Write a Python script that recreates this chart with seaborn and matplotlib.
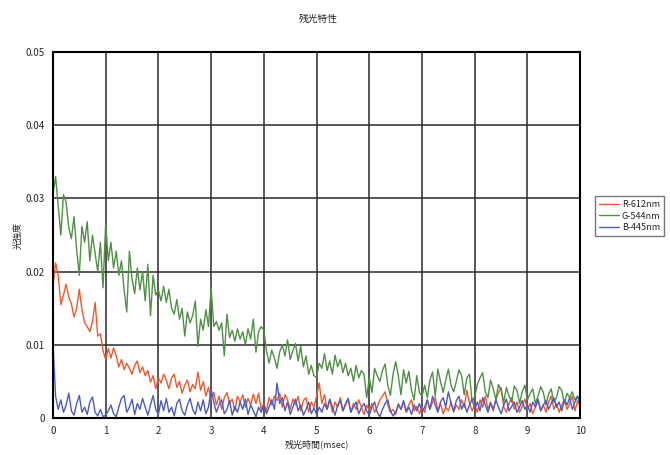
import numpy as np
import pandas as pd
import matplotlib
matplotlib.use("Agg")
import matplotlib.pyplot as plt
import seaborn as sns

# sample times (msec), one sample every 0.05 msec
time_ms = np.round(np.arange(0, 201) * 0.05, 2)

red_612 = [
    0.0180, 0.0212, 0.0195, 0.0155, 0.0168, 0.0183, 0.0165, 0.0156, 0.0138, 0.0150,
    0.0176, 0.0148, 0.0130, 0.0125, 0.0118, 0.0132, 0.0158, 0.0112, 0.0115, 0.0092,
    0.0080, 0.0095, 0.0082, 0.0096, 0.0085, 0.0070, 0.0080, 0.0066, 0.0075, 0.0068,
    0.0060, 0.0072, 0.0078, 0.0062, 0.0070, 0.0058, 0.0065, 0.0049, 0.0058, 0.0040,
    0.0055, 0.0048, 0.0060, 0.0052, 0.0040, 0.0055, 0.0060, 0.0042, 0.0050, 0.0034,
    0.0045, 0.0052, 0.0036, 0.0046, 0.0040, 0.0063, 0.0038, 0.0050, 0.0030, 0.0042,
    0.0025, 0.0035, 0.0018, 0.0030, 0.0012, 0.0028, 0.0035, 0.0020, 0.0026, 0.0010,
    0.0030, 0.0022, 0.0032, 0.0015, 0.0027, 0.0018, 0.0033, 0.0020, 0.0034, 0.0012,
    0.0020, 0.0010, 0.0028, 0.0018, 0.0030, 0.0024, 0.0034, 0.0015, 0.0032, 0.0025,
    0.0012, 0.0026, 0.0018, 0.0030, 0.0010, 0.0024, 0.0028, 0.0008, 0.0022, 0.0015,
    0.0030, 0.0048, 0.0020, 0.0032, 0.0012, 0.0025, 0.0008, 0.0022, 0.0015, 0.0028,
    0.0010, 0.0018, 0.0026, 0.0008, 0.0020, 0.0012, 0.0025, 0.0015, 0.0005, 0.0018,
    0.0010, 0.0020, 0.0008, 0.0015, 0.0025, 0.0030, 0.0036, 0.0018, 0.0008, 0.0012,
    0.0005, 0.0020, 0.0012, 0.0022, 0.0010, 0.0018, 0.0025, 0.0010, 0.0016, 0.0006,
    0.0015, 0.0008, 0.0025, 0.0012, 0.0022, 0.0028, 0.0010, 0.0020, 0.0006, 0.0015,
    0.0010, 0.0022, 0.0008, 0.0018, 0.0012, 0.0025, 0.0015, 0.0038, 0.0020, 0.0010,
    0.0018, 0.0008, 0.0025, 0.0015, 0.0030, 0.0012, 0.0022, 0.0010, 0.0025, 0.0035,
    0.0042, 0.0015, 0.0008, 0.0020, 0.0028, 0.0012, 0.0022, 0.0008, 0.0016, 0.0026,
    0.0012, 0.0020, 0.0006, 0.0015, 0.0025, 0.0010, 0.0018, 0.0008, 0.0022, 0.0030,
    0.0012, 0.0020, 0.0008, 0.0018, 0.0025, 0.0012, 0.0020, 0.0030, 0.0010, 0.0024,
    0.0015,
]

green_544 = [
    0.0305, 0.0330, 0.0290, 0.0250, 0.0305, 0.0295, 0.0260, 0.0245, 0.0275, 0.0230,
    0.0195, 0.0262, 0.0240, 0.0268, 0.0215, 0.0250, 0.0225, 0.0200, 0.0240, 0.0178,
    0.0265, 0.0215, 0.0240, 0.0205, 0.0228, 0.0195, 0.0215, 0.0175, 0.0145, 0.0228,
    0.0190, 0.0170, 0.0205, 0.0175, 0.0200, 0.0160, 0.0210, 0.0140, 0.0195, 0.0168,
    0.0175, 0.0160, 0.0180, 0.0158, 0.0176, 0.0150, 0.0142, 0.0162, 0.0135, 0.0150,
    0.0112, 0.0145, 0.0130, 0.0140, 0.0160, 0.0098, 0.0135, 0.0120, 0.0148, 0.0125,
    0.0178, 0.0125, 0.0132, 0.0120, 0.0130, 0.0085, 0.0142, 0.0110, 0.0120, 0.0105,
    0.0122, 0.0108, 0.0118, 0.0100, 0.0122, 0.0108, 0.0135, 0.0090, 0.0118, 0.0125,
    0.0120, 0.0092, 0.0075, 0.0093, 0.0082, 0.0068, 0.0090, 0.0100, 0.0085, 0.0107,
    0.0080, 0.0092, 0.0102, 0.0078, 0.0098, 0.0070, 0.0085, 0.0060, 0.0072, 0.0058,
    0.0055, 0.0075, 0.0068, 0.0088, 0.0065, 0.0078, 0.0060, 0.0086, 0.0070, 0.0080,
    0.0062, 0.0075, 0.0058, 0.0068, 0.0050, 0.0072, 0.0055, 0.0065, 0.0060, 0.0028,
    0.0055, 0.0035, 0.0068, 0.0058, 0.0050, 0.0065, 0.0074, 0.0045, 0.0031, 0.0060,
    0.0077, 0.0058, 0.0032, 0.0066, 0.0048, 0.0064, 0.0038, 0.0025, 0.0058, 0.0035,
    0.0030, 0.0045, 0.0028, 0.0052, 0.0063, 0.0030, 0.0067, 0.0050, 0.0035, 0.0052,
    0.0067, 0.0045, 0.0036, 0.0050, 0.0066, 0.0058, 0.0032, 0.0055, 0.0060, 0.0022,
    0.0030, 0.0046, 0.0055, 0.0062, 0.0036, 0.0028, 0.0052, 0.0040, 0.0025, 0.0046,
    0.0038, 0.0022, 0.0042, 0.0030, 0.0022, 0.0044, 0.0038, 0.0020, 0.0036, 0.0045,
    0.0025, 0.0034, 0.0040, 0.0020, 0.0030, 0.0043, 0.0035, 0.0018, 0.0033, 0.0040,
    0.0022, 0.0028, 0.0043, 0.0038, 0.0020, 0.0034, 0.0028, 0.0036, 0.0025, 0.0030,
    0.0022,
]

blue_445 = [
    0.0105, 0.0030, 0.0012, 0.0025, 0.0008, 0.0018, 0.0034, 0.0010, 0.0004, 0.0020,
    0.0031, 0.0008, 0.0015, 0.0005, 0.0022, 0.0029, 0.0008, 0.0003, 0.0012, 0.0002,
    0.0004, 0.0010, 0.0018, 0.0006, 0.0002, 0.0015, 0.0027, 0.0031, 0.0008, 0.0015,
    0.0026, 0.0005, 0.0020, 0.0012, 0.0027, 0.0015, 0.0004, 0.0018, 0.0031, 0.0012,
    0.0005, 0.0024, 0.0010, 0.0027, 0.0008, 0.0015, 0.0003, 0.0020, 0.0026, 0.0010,
    0.0004, 0.0018, 0.0027, 0.0012, 0.0005, 0.0022, 0.0010, 0.0025, 0.0006, 0.0015,
    0.0040, 0.0022, 0.0008, 0.0018, 0.0025, 0.0006, 0.0012, 0.0024, 0.0004, 0.0016,
    0.0008, 0.0022, 0.0012, 0.0026, 0.0005, 0.0018, 0.0010, 0.0002, 0.0015, 0.0008,
    0.0018, 0.0006, 0.0015, 0.0025, 0.0012, 0.0048, 0.0020, 0.0028, 0.0010, 0.0022,
    0.0005, 0.0015, 0.0026, 0.0010, 0.0018, 0.0004, 0.0012, 0.0022, 0.0006, 0.0014,
    0.0005, 0.0015, 0.0008, 0.0020, 0.0012, 0.0026, 0.0015, 0.0004, 0.0018, 0.0024,
    0.0010, 0.0020, 0.0027, 0.0008, 0.0016, 0.0022, 0.0006, 0.0014, 0.0020, 0.0010,
    0.0004, 0.0015, 0.0022, 0.0008, 0.0002, 0.0012, 0.0020, 0.0025, 0.0010, 0.0003,
    0.0008, 0.0018, 0.0012, 0.0024, 0.0008, 0.0015, 0.0005, 0.0018, 0.0010, 0.0020,
    0.0008, 0.0015, 0.0025, 0.0012, 0.0030, 0.0018, 0.0008, 0.0022, 0.0028, 0.0015,
    0.0036, 0.0020, 0.0010, 0.0024, 0.0030, 0.0012, 0.0020, 0.0008, 0.0018, 0.0026,
    0.0012, 0.0022, 0.0010, 0.0028, 0.0018, 0.0008, 0.0020, 0.0012, 0.0025, 0.0015,
    0.0006, 0.0018, 0.0026, 0.0010, 0.0016, 0.0022, 0.0008, 0.0015, 0.0024, 0.0012,
    0.0018, 0.0008, 0.0022, 0.0015, 0.0026, 0.0010, 0.0018, 0.0024, 0.0012, 0.0020,
    0.0028, 0.0015, 0.0022, 0.0010, 0.0025, 0.0018, 0.0028, 0.0012, 0.0022, 0.0030,
    0.0018,
]

series_names = ["R-612nm", "G-544nm", "B-445nm"]
series_colors = ["#ee5a2e", "#4f9045", "#4c5cc0"]

df = pd.concat([
    pd.DataFrame({"time": time_ms, "value": vals, "series": name})
    for name, vals in zip(series_names, [red_612, green_544, blue_445])
])

sns.set_style("white")
plt.rcParams["font.family"] = ["Noto Sans CJK JP", "DejaVu Sans"]

fig = plt.figure(figsize=(6.7, 4.55), dpi=100)
ax = fig.add_axes([0.079, 0.081, 0.787, 0.805])

sns.lineplot(data=df, x="time", y="value", hue="series", hue_order=series_names,
             palette=dict(zip(series_names, series_colors)), linewidth=1.0,
             ax=ax, legend=False)

ax.set_xlim(0, 10)
ax.set_ylim(0, 0.05)
ax.set_xticks(range(0, 11))
ax.set_yticks([0, 0.01, 0.02, 0.03, 0.04, 0.05])
ax.set_yticklabels(["0", "0.01", "0.02", "0.03", "0.04", "0.05"])
ax.tick_params(labelsize=7, length=0, pad=6)
ax.grid(True, color="#2a2a2a", linewidth=1.1)
ax.set_axisbelow(True)
for sp in ax.spines.values():
    sp.set_color("black")
    sp.set_linewidth(1.5)

ax.set_xlabel("残光時間(msec)", fontsize=6.5, labelpad=2)
ax.set_ylabel("光強度", fontsize=6.5, labelpad=2)
fig.text(0.475, 0.958, "残光特性", fontsize=7, ha="center", va="center")

handles = [plt.Line2D([0], [0], color=c, lw=1.0) for c in series_colors]
leg = fig.legend(handles, series_names, loc="center left",
                 bbox_to_anchor=(0.882, 0.525), fontsize=6.5, frameon=True,
                 fancybox=False, edgecolor="#555555", handlelength=2.2,
                 handletextpad=0.3, borderpad=0.4, labelspacing=0.3)
leg.get_frame().set_linewidth(1.0)

fig.savefig("out.png", dpi=100)
